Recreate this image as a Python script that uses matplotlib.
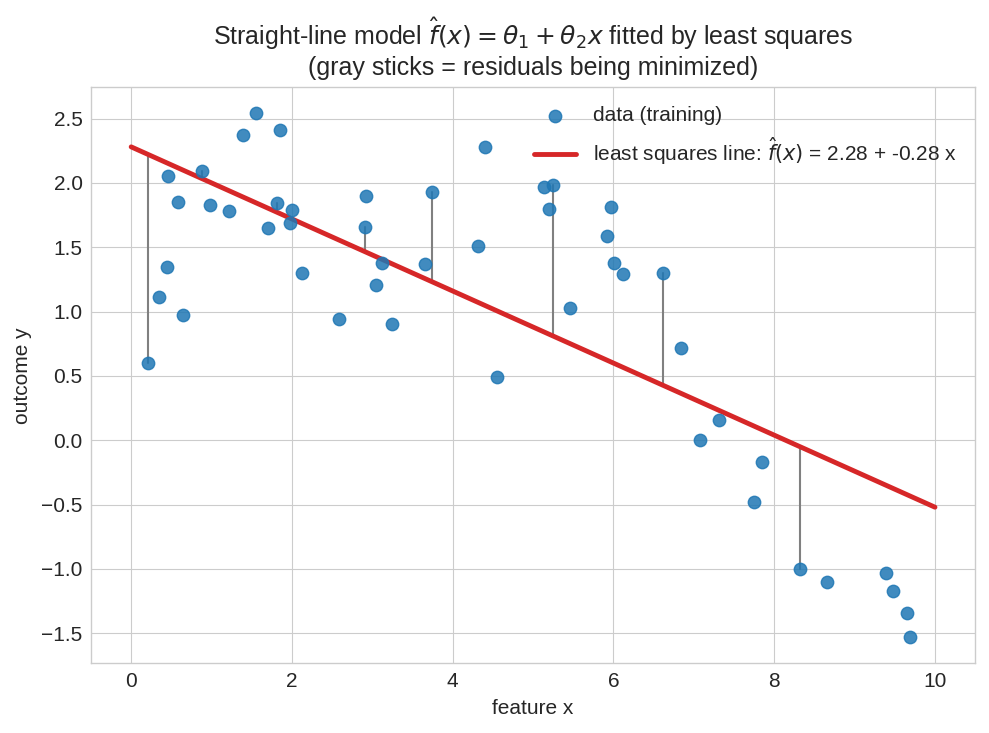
import matplotlib
matplotlib.use('Agg')
import numpy as np
import matplotlib.pyplot as plt

# training data
x = [0.21, 0.35, 0.45, 0.46, 0.58, 0.65, 0.88, 0.98, 1.22, 1.39, 1.55, 1.70,
     1.82, 1.85, 1.97, 2.00, 2.13, 2.59, 2.91, 2.92, 3.05, 3.12, 3.25, 3.66,
     3.74, 4.32, 4.40, 4.55, 5.14, 5.20, 5.25, 5.46, 5.92, 5.97, 6.01, 6.12,
     6.62, 6.84, 7.08, 7.31, 7.75, 7.85, 8.32, 8.66, 9.39, 9.48, 9.65, 9.69]
y = [0.60, 1.11, 1.35, 2.05, 1.85, 0.97, 2.09, 1.83, 1.78, 2.37, 2.54, 1.65,
     1.84, 2.41, 1.69, 1.79, 1.30, 0.94, 1.66, 1.90, 1.21, 1.38, 0.90, 1.37,
     1.93, 1.51, 2.28, 0.49, 1.97, 1.80, 1.98, 1.03, 1.59, 1.81, 1.38, 1.29,
     1.30, 0.72, 0.00, 0.16, -0.48, -0.17, -1.00, -1.10, -1.03, -1.17, -1.34, -1.53]
theta = [2.28, -0.28]
stick_every = 6

plt.style.use('seaborn-v0_8-whitegrid')
plt.rcParams['font.family'] = ['Liberation Sans', 'DejaVu Sans']

x = np.array(x)
y = np.array(y)
fit = lambda v: theta[0] + theta[1] * v

fig, ax = plt.subplots(figsize=(9.89, 7.33), dpi=100)
for xi, yi in zip(x[::stick_every], y[::stick_every]):
    ax.plot([xi, xi], [yi, fit(xi)], color='gray', lw=1.5, zorder=1)
ax.scatter(x, y, s=80, color='tab:blue', alpha=0.85, label='data (training)', zorder=3)
xs = np.linspace(0, 10, 100)
ax.plot(xs, fit(xs), color='tab:red', lw=3.5, zorder=2,
        label=r'least squares line: $\hat{f}(x)$ = %.2f + %.2f x' % (theta[0], theta[1]))

for s in ax.spines.values():
    s.set_visible(True)
    s.set_color('#cccccc')
ax.tick_params(labelsize=15, pad=6)
ax.set_xlabel('feature x', fontsize=15, labelpad=6)
ax.set_ylabel('outcome y', fontsize=15, labelpad=7)
ax.set_title('Straight-line model $\\hat{f}(x) = \\theta_1 + \\theta_2 x$ fitted by least squares\n'
             '(gray sticks = residuals being minimized)', fontsize=18, pad=9)
ax.legend(loc='upper right', fontsize=15)
fig.subplots_adjust(left=0.092, right=0.986, top=0.881, bottom=0.095)
plt.savefig('out.png')
